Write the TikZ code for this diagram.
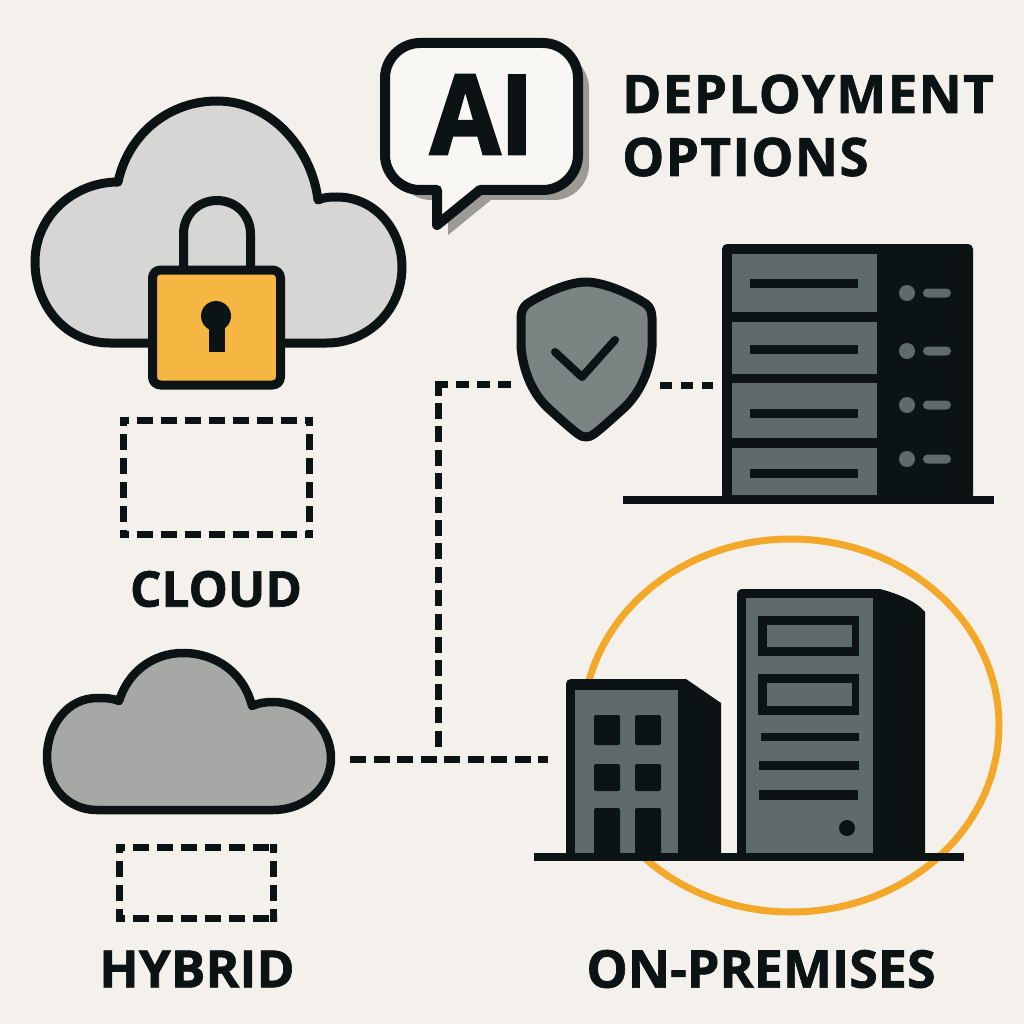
\documentclass[tikz,border=0pt]{standalone}
\usepackage{fontspec}
\newfontfamily\labelfont[FakeBold=1.2]{Open Sans Bold}
\newfontfamily\titlefont[FakeBold=1.2,LetterSpace=2.6]{Open Sans Bold}
\newfontfamily\aifont[FakeBold=2.5,FakeStretch=0.92]{Open Sans Bold}
\definecolor{paper}{HTML}{F4F1ED}
\definecolor{ink}{HTML}{0C1314}
\definecolor{slab}{HTML}{5F6B6A}
\definecolor{amber}{HTML}{F5B642}
\definecolor{ringamber}{HTML}{F3A829}
\definecolor{pale}{HTML}{D6D6D4}
\definecolor{midgray}{HTML}{A6A8A6}
\definecolor{shieldgray}{HTML}{7C8483}
\definecolor{bubbleshadow}{HTML}{9C9A94}
\tikzset{
  outline/.style={draw=ink, line width=9, line join=round},
  dashline/.style={draw=ink, line width=7, dash pattern=on 16 off 7.5},
  boxdash/.style={draw=ink, line width=7, dash pattern=on 16 off 8, dash phase=7, shorten <=-3.5, shorten >=-3.5},
  caption/.style={text=ink, inner sep=0},
  panel/.style={fill=slab},
  hole/.style={fill=ink}
}
\def\bubblepath{(420,43) -- (543,43) .. controls (562,43) and (578,59) .. (578,78) -- (578,155) .. controls (578,174) and (562,190) .. (543,190) -- (480,190) -- (437,225) -- (437,190) -- (420,190) .. controls (401,190) and (385,174) .. (385,155) -- (385,78) .. controls (385,59) and (401,43) .. (420,43) -- cycle}
\begin{document}
\begin{tikzpicture}[x=1pt, y=-1pt]
  \fill[paper] (0,0) rectangle (1024,1024);
  \useasboundingbox (0,0) rectangle (1024,1024);

  % title bubble
  \fill[bubbleshadow, shift={(11,10)}] \bubblepath;
  \draw[outline, line width=10, fill=white!40!paper] \bubblepath;
  \node[text=ink, inner sep=0, font=\aifont\fontsize{110}{110}\selectfont] (ailabel) at (482,114.5) {AI};
  \node[caption, anchor=base west, font=\titlefont\fontsize{53}{55}\selectfont] (titleA) at (622,113) {DEPLOYMENT};
  \node[caption, anchor=base west, font=\titlefont\fontsize{53}{55}\selectfont] (titleB) at (622,176) {OPTIONS};

  % private cloud with lock
  \draw[outline, fill=pale] (110,343) .. controls (65,343) and (35,305) .. (35,262) .. controls (35,215) and (75,182) .. (118,182)
    .. controls (128,135) and (168,101) .. (217,101) .. controls (272,101) and (312,150) .. (318,200)
    .. controls (325,197) and (330,197) .. (337,197) .. controls (375,197) and (402,230) .. (402,267)
    .. controls (402,310) and (368,343) .. (327,343) -- cycle;
  \draw[outline] (183.5,270) -- (183.5,234) .. controls (183.5,215) and (198,200.5) .. (217,200.5) .. controls (236,200.5) and (250.5,215) .. (250.5,234) -- (250.5,270);
  \draw[outline, fill=amber, rounded corners=8] (152.5,270) rectangle (280.5,385);
  \fill[ink] (216,316) circle[radius=15];
  \fill[ink] (209,320) rectangle (225,352);
  \foreach \ax/\ay/\bx/\by in {123/420.5/309.5/420.5, 309.5/420.5/309.5/534.5, 123/534.5/309.5/534.5, 123/420.5/123/534.5}
    \draw[boxdash] (\ax,\ay) -- (\bx,\by);
  \node[caption, font=\labelfont\fontsize{49.5}{52}\selectfont] (cloudlabel) at (216,589) {CLOUD};

  % hybrid cloud
  \draw[outline, line width=8.5, fill=midgray] (97,810) .. controls (68,810) and (47,787) .. (47,757) .. controls (47,725) and (68,698) .. (97,698)
    .. controls (105,698) and (112,698) .. (119,701) .. controls (128,672) and (153,653) .. (183,653) .. controls (216,653) and (244,673) .. (252,706)
    .. controls (258,703) and (266,702) .. (273,702) .. controls (305,702) and (331,728) .. (331,758)
    .. controls (331,787) and (305,810) .. (273,810) -- cycle;
  \foreach \ax/\ay/\bx/\by in {119.5/847.5/273.5/847.5, 273.5/847.5/273.5/918.5, 119.5/918.5/273.5/918.5, 119.5/847.5/119.5/918.5}
    \draw[boxdash] (\ax,\ay) -- (\bx,\by);
  \node[caption, font=\labelfont\fontsize{51.5}{54}\selectfont] (hybridlabel) at (197,969) {HYBRID};

  % connectors
  \coordinate (hybridend) at (350,759);
  \coordinate (premend) at (548,759);
  \coordinate (branch) at (438.5,746.5);
  \coordinate (corner) at (438.5,384);
  \coordinate (shieldwest) at (511,384);
  \coordinate (shieldeast) at (660,385);
  \coordinate (rackwest) at (713,385);
  \draw[dashline] (hybridend) -- (premend);
  \draw[dashline, dash pattern=on 16 off 7.4] (branch) -- (corner);
  \draw[dashline, dash pattern=on 13 off 8, shorten <=-3.5] (corner) -- (shieldwest);
  \draw[dashline, dash pattern=on 12 off 9] (shieldeast) -- (rackwest);

  % shield
  \draw[outline, fill=shieldgray] (586,282) .. controls (566,282) and (537,297) .. (527,304) .. controls (523,307) and (521,312) .. (521,318)
    -- (521,347) .. controls (523,370) and (532,393) .. (548,408) .. controls (558,417) and (570,428) .. (578,434) .. controls (583,438) and (589,438) .. (594,434)
    .. controls (602,428) and (614,417) .. (624,408) .. controls (640,393) and (650,370) .. (652,347) -- (652,318)
    .. controls (652,312) and (650,307) .. (646,304) .. controls (636,297) and (606,282) .. (586,282) -- cycle;
  \draw[ink, line width=8, line cap=round, line join=round] (555,352) -- (582,377) -- (615,340);

  % server rack
  \fill[ink, rounded corners=5] (722,500) -- (722,244) -- (973,244) -- (973,500) -- cycle;
  \fill[ink] (623,496) rectangle (994,504);
  \foreach \top/\bot/\bar/\led in {254/312/279/293, 322/374/345/351, 383/438/409/405, 448/495/469/459} {
    \fill[panel] (732,\top) rectangle (877,\bot);
    \fill[hole] (750,\bar) rectangle (858,\bar+9);
    \fill[panel] (907,\led) circle[radius=8];
    \fill[panel, rounded corners=4.5] (923,\led-4.5) rectangle (951,\led+4.5);
  }

  % on-premises ring and buildings
  \draw[ringamber, line width=7] (791,725.5) ellipse[x radius=208, y radius=186.5];
  \fill[ink] (566,857) -- (566,684) .. controls (566,681) and (568,679) .. (571,679) -- (686,679) -- (721,703) -- (721,857) -- cycle;
  \fill[panel] (575,690) rectangle (678,853);
  \foreach \wx in {594,635} {
    \fill[hole, rounded corners=2] (\wx,715) rectangle (\wx+26,745);
    \fill[hole, rounded corners=2] (\wx,764) rectangle (\wx+26,791);
    \fill[hole, rounded corners=2] (\wx,808) rectangle (\wx+26,855);
  }
  \fill[ink] (737,857) -- (737,595) .. controls (737,591) and (739,589) .. (743,589) -- (880,589) .. controls (895,593) and (915,600) .. (925,612) -- (925,857) -- cycle;
  \fill[panel] (746,598) rectangle (873,853);
  \fill[hole] (758,616) rectangle (859,656);
  \fill[panel] (767,625) rectangle (852,647);
  \fill[hole] (758,674) rectangle (859,715);
  \fill[panel] (767,683) rectangle (852,706);
  \fill[hole] (761,733) rectangle (859,741);
  \fill[hole] (759,761) rectangle (859,770);
  \fill[hole] (759,790) rectangle (858,800);
  \fill[hole] (847,828) circle[radius=8];
  \fill[ink] (534,853) rectangle (964,861);
  \node[caption, font=\labelfont\fontsize{52}{54}\selectfont] (premlabel) at (761,969) {ON-PREMISES};
\end{tikzpicture}
\end{document}
